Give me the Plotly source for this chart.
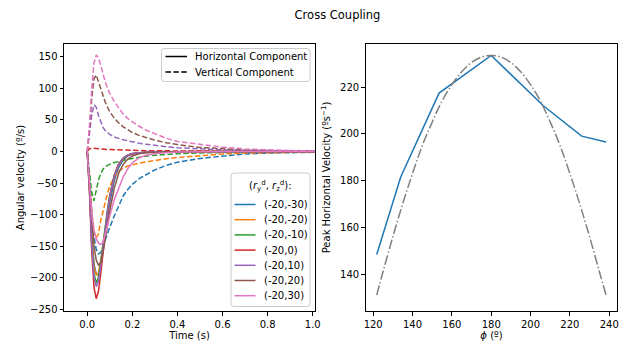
import plotly.graph_objects as go

# ---------------- data ----------------
time_s = [0, 0.01, 0.02, 0.03, 0.04, 0.05, 0.06, 0.07, 0.08, 0.09, 0.10, 0.12, 0.14,
          0.16, 0.18, 0.20, 0.23, 0.26, 0.30, 0.35, 0.40, 0.50, 0.60, 0.70, 0.80,
          0.90, 1.00, 1.05]

config_labels = ["(-20,-30)", "(-20,-20)", "(-20,-10)", "(-20,0)", "(-20,10)", "(-20,20)", "(-20,30)"]
colors = ["#1f77b4", "#ff7f0e", "#2ca02c", "#d62728", "#9467bd", "#8c564b", "#e377c2"]

# horizontal component (solid)
horiz_m30 = [0, -50, -128, -178, -194, -196, -180, -154, -128, -103, -80, -46, -25, -13, -7, -4, -2, -1.2, -0.6, -0.3, -0.2, -0.1, 0, 0, 0, 0, 0, 0]
horiz_m20 = [0, -55, -135, -182, -196, -192, -172, -145, -118, -93, -71, -40, -21, -11, -6, -3.5, -2, -1.2, -0.6, -0.3, -0.2, -0.1, 0, 0, 0, 0, 0, 0]
horiz_m10 = [0, -60, -145, -194, -208, -199, -175, -145, -117, -91, -69, -37, -19, -10, -5.5, -3, -1.8, -1, -0.5, -0.3, -0.2, -0.1, 0, 0, 0, 0, 0, 0]
horiz_0 = [0, -65, -158, -215, -233, -221, -193, -159, -126, -97, -72, -38, -19, -11, -6, -3.5, -2, -1.2, -0.6, -0.3, -0.2, -0.1, 0, 0, 0, 0, 0, 0]
horiz_p10 = [0, -60, -148, -199, -214, -205, -181, -151, -122, -95, -72, -39, -20, -10.5, -5.5, -3, -1.8, -1, -0.5, -0.3, -0.2, -0.1, 0, 0, 0, 0, 0, 0]
horiz_p20 = [0, -45, -105, -150, -172, -180, -176, -160, -138, -115, -93, -58, -34, -20, -12, -7, -3.5, -2, -1, -0.5, -0.3, -0.1, 0, 0, 0, 0, 0, 0]
horiz_p30 = [0, -50, -100, -125, -138, -145, -147, -144, -132, -117, -102, -76, -58, -40, -27, -18, -10, -6, -3, -1.5, -0.8, -0.3, -0.1, 0, 0, 0, 0, 0]

# vertical component (dashed)
vert_m30 = [0, -40, -95, -135, -155, -162, -160, -150, -137, -128, -120, -102, -85, -70, -60, -52, -43, -37, -29, -22, -17, -11, -7, -3.8, -2.5, -1.7, -1.2, -1]
vert_m20 = [0, -40, -95, -127, -137, -130, -109, -94, -79, -66, -55, -40, -31, -26, -23, -21, -18.5, -16.5, -14, -11.5, -9.5, -6.5, -4, -2.5, -1.6, -1, -0.6, -0.5]
vert_m10 = [0, -30, -65, -78, -60, -45, -35, -28, -24, -21.5, -20, -17.5, -15.5, -14, -12.5, -11, -9, -7.5, -6, -4.5, -3.5, -2.2, -1.4, -0.9, -0.6, -0.4, -0.3, -0.2]
vert_0 = [0, 4.5, 5.5, 5, 4.5, 4.2, 3.9, 3.6, 3.4, 3.2, 3, 2.6, 2.3, 2.1, 1.9, 1.7, 1.5, 1.3, 1.1, 0.9, 0.7, 0.5, 0.3, 0.2, 0.15, 0.1, 0.1, 0.1]
vert_p10 = [0, 25, 58, 74, 70, 57, 46, 38, 33, 29.5, 27, 23, 20.5, 18.5, 17, 15, 13, 11.5, 9.5, 7.5, 6, 4, 2.5, 1.5, 1, 0.6, 0.4, 0.3]
vert_p20 = [0, 35, 85, 115, 121, 110, 97, 87, 78, 70, 63, 53, 45, 39, 34, 30, 25.5, 22, 18, 14, 11, 6.5, 4, 2.5, 1.5, 1, 0.5, 0.4]
vert_p30 = [0, 40, 100, 140, 153, 148, 136, 122, 110, 100, 92, 79, 68, 59, 52, 47, 40, 34, 28, 21, 16, 11, 7, 4, 2.5, 1.5, 0.8, 0.6]

horizontal = [horiz_m30, horiz_m20, horiz_m10, horiz_0, horiz_p10, horiz_p20, horiz_p30]
vertical = [vert_m30, vert_m20, vert_m10, vert_0, vert_p10, vert_p20, vert_p30]

style_labels = ["Horizontal Component", "Vertical Component"]
legend_title = "(<i>r</i><sub>y</sub><sup>d</sup>, <i>r</i><sub>z</sub><sup>d</sup>):"

# right panel
phi_deg = [121.8, 134, 153.5, 180, 206.5, 226, 238.4]
peak_horiz = [148.4, 181.5, 217.4, 233.5, 212, 199, 196.5]

phi_ref = [121.8, 125, 130, 135, 140, 145, 150, 155, 160, 165, 170, 175, 180,
           185, 190, 195, 200, 205, 210, 215, 220, 225, 230, 235, 238.4]
peak_ref = [131, 141, 156, 170, 183, 195, 205, 214, 221, 226.5, 230.5, 232.8, 233.5,
            232.8, 230.5, 226.5, 221, 214, 205, 195, 183, 170, 156, 141, 131]

# ---------------- figure ----------------
FONT = "DejaVu Sans"
W, H = 641, 349
DASH = "5.5px,2.4px"


def px(x):
    return x / W


def py(y):
    return 1 - y / H


fig = go.Figure()

for lbl, col, h, v in zip(config_labels, colors, horizontal, vertical):
    fig.add_trace(go.Scatter(x=time_s, y=h, mode="lines", name=lbl, showlegend=False,
                             line=dict(color=col, width=1.5), xaxis="x", yaxis="y"))
    fig.add_trace(go.Scatter(x=time_s, y=v, mode="lines", name=lbl, showlegend=False,
                             line=dict(color=col, width=1.5, dash=DASH), xaxis="x", yaxis="y"))

fig.add_trace(go.Scatter(x=phi_deg, y=peak_horiz, mode="lines", showlegend=False,
                         line=dict(color="#1f77b4", width=1.5), xaxis="x2", yaxis="y2"))
fig.add_trace(go.Scatter(x=phi_ref, y=peak_ref, mode="lines", showlegend=False,
                         line=dict(color="#808080", width=1.5, dash="9.6px,2.4px,1.5px,2.4px"),
                         line_shape="spline", xaxis="x2", yaxis="y2"))

# ---- hand-built legends (matplotlib look) ----
shapes = []
annotations = []


def legend_box(x0, y0, x1, y1, r=3):
    path = (f"M {px(x0 + r)},{py(y0)} L {px(x1 - r)},{py(y0)} Q {px(x1)},{py(y0)} {px(x1)},{py(y0 + r)} "
            f"L {px(x1)},{py(y1 - r)} Q {px(x1)},{py(y1)} {px(x1 - r)},{py(y1)} "
            f"L {px(x0 + r)},{py(y1)} Q {px(x0)},{py(y1)} {px(x0)},{py(y1 - r)} "
            f"L {px(x0)},{py(y0 + r)} Q {px(x0)},{py(y0)} {px(x0 + r)},{py(y0)} Z")
    shapes.append(dict(type="path", path=path, xref="paper", yref="paper", layer="above",
                       fillcolor="rgba(255,255,255,0.8)", line=dict(color="#cccccc", width=1)))


def legend_entry(y, x_line0, x_line1, x_text, color, dash, text):
    shapes.append(dict(type="line", xref="paper", yref="paper", layer="above",
                       x0=px(x_line0), x1=px(x_line1), y0=py(y), y1=py(y),
                       line=dict(color=color, width=1.5, dash=dash)))
    annotations.append(dict(text=text, xref="paper", yref="paper", x=px(x_text), y=py(y),
                            xanchor="left", yanchor="middle", showarrow=False,
                            font=dict(family=FONT, size=10, color="black")))


# legend 1 : line styles
legend_box(161.5, 48.5, 310, 81.5)
for i, (lbl, dash) in enumerate(zip(style_labels, ["solid", DASH])):
    legend_entry(56.5 + 15.5 * i, 165.5, 187, 192.5, "black", dash, lbl)

# legend 2 : configurations
legend_box(231, 173, 310, 306.5)
annotations.append(dict(text=legend_title, xref="paper", yref="paper", x=px(270.5), y=py(186),
                        xanchor="center", yanchor="middle", showarrow=False,
                        font=dict(family=FONT, size=10, color="black")))
for i, (lbl, col) in enumerate(zip(config_labels, colors)):
    legend_entry(204.5 + 15.2 * i, 234.5, 255.5, 262, col, "solid", lbl)

axis_common = dict(showline=True, linecolor="black", linewidth=1, mirror=True,
                   ticks="outside", ticklen=3.5, tickwidth=0.8, tickcolor="black",
                   showgrid=False, zeroline=False,
                   tickfont=dict(family=FONT, size=10, color="black"))
title_font = dict(family=FONT, size=10, color="black")

fig.update_layout(
    width=W, height=H,
    margin=dict(l=0, r=0, t=0, b=0, autoexpand=False),
    paper_bgcolor="white", plot_bgcolor="white",
    font=dict(family=FONT, size=10, color="black"),
    showlegend=False,
    title=dict(text="Cross Coupling", x=px(337.5), y=py(15), xanchor="center", yanchor="middle",
               font=dict(family=FONT, size=11.5, color="black")),
    xaxis=dict(domain=[px(64), px(315)], range=[-0.103, 1.01], anchor="y",
               tickvals=[0, 0.2, 0.4, 0.6, 0.8, 1.0], ticktext=["0.0", "0.2", "0.4", "0.6", "0.8", "1.0"],
               title=dict(text="Time (s)", standoff=3, font=title_font),
               **axis_common),
    yaxis=dict(domain=[py(311), py(44)], range=[-252.5, 170.2], anchor="x",
               tickvals=[-250, -200, -150, -100, -50, 0, 50, 100, 150],
               title=dict(text="Angular velocity (º/s)", standoff=3, font=title_font),
               **axis_common),
    xaxis2=dict(domain=[px(365.7), px(617.3)], range=[116.2, 244.1], anchor="y2",
                tickvals=[120, 140, 160, 180, 200, 220, 240],
                title=dict(text="<i>ϕ</i> (º)", standoff=3, font=title_font),
                **axis_common),
    yaxis2=dict(domain=[py(311), py(44)], range=[124.2, 238.4], anchor="x2",
                tickvals=[140, 160, 180, 200, 220],
                title=dict(text="Peak Horizontal Velocity (ºs<sup>−1</sup>)", standoff=7, font=title_font),
                **axis_common),
    shapes=shapes,
    annotations=annotations,
)

fig.write_html("out.html", config={"displayModeBar": False},
               post_script="document.body.style.margin='0';")
